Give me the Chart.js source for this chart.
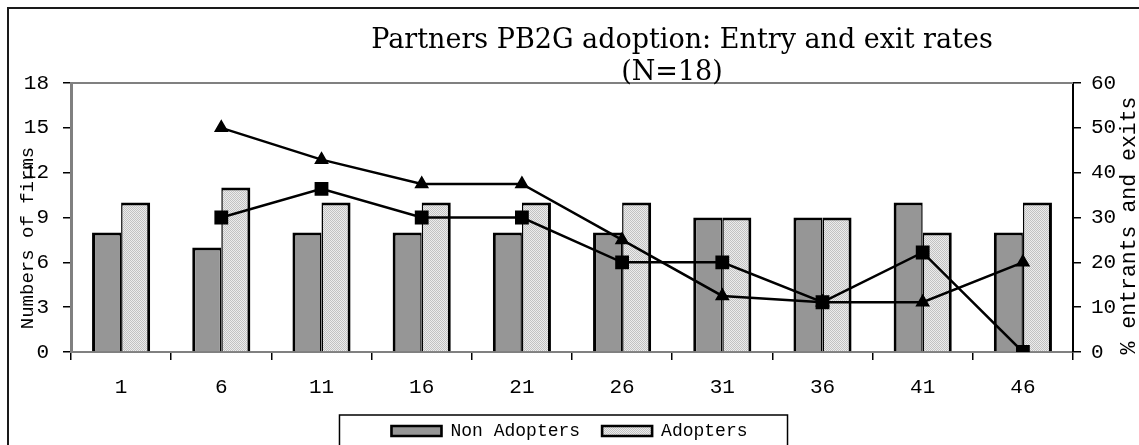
<!DOCTYPE html>
<html>
<head>
<meta charset="utf-8">
<script src="https://cdn.jsdelivr.net/npm/chart.js@4.4.1/dist/chart.umd.min.js"></script>
<style>
  html, body { margin: 0; padding: 0; background: #fff; }
  #wrap { width: 1139px; height: 445px; position: relative; }
</style>
</head>
<body>
<div id="wrap"><canvas id="pb2gChart"></canvas></div>
<script>
// values
const periods = ['1', '6', '11', '16', '21', '26', '31', '36', '41', '46'];
const nonAdopters = [8, 7, 8, 8, 8, 8, 9, 9, 10, 8];
const adopters = [10, 11, 10, 10, 10, 10, 9, 9, 8, 10];
const entrants = [null, 50, 42.9, 37.5, 37.5, 25, 12.5, 11.1, 11.1, 20];
const exits = [null, 30, 36.4, 30, 30, 20, 20, 11.1, 22.2, 0];
const firmTicks = [0, 3, 6, 9, 12, 15, 18];
const rateTicks = [0, 10, 20, 30, 40, 50, 60];
const titleLines = ['Partners PB2G adoption: Entry and exit rates', '(N=18)'];
const leftTitle = 'Numbers of firms';
const rightTitle = '% entrants and exits';

const MONO = '"Liberation Mono", monospace';

// light dotted fill for the adopters bars
function dotPattern() {
    const c = document.createElement('canvas');
    c.width = 2; c.height = 2;
    const g = c.getContext('2d');
    g.fillStyle = '#ececec';
    g.fillRect(0, 0, 2, 2);
    g.fillStyle = '#c2c2c2';
    g.fillRect(0, 0, 1, 1);
    g.fillRect(1, 1, 1, 1);
    return g.createPattern(c, 'repeat');
}

function verticalText(ctx, text, x, y, font) {
    ctx.save();
    ctx.translate(x, y);
    ctx.rotate(-Math.PI / 2);
    ctx.font = font;
    ctx.textAlign = 'center';
    ctx.textBaseline = 'middle';
    ctx.fillText(text, 0, 0);
    ctx.restore();
}

// frame, titles and legend box
const decor = {
    id: 'decor',
    afterDraw(chart) {
        const { ctx, chartArea: a } = chart;
        ctx.save();
        ctx.strokeStyle = '#1a1a1a';
        ctx.lineWidth = 2;
        ctx.beginPath();
        ctx.moveTo(8, chart.height);
        ctx.lineTo(8, 8);
        ctx.lineTo(chart.width, 8);
        ctx.stroke();

        ctx.strokeStyle = '#808080';
        ctx.beginPath();
        ctx.moveTo(a.left, a.top);
        ctx.lineTo(a.right, a.top);
        ctx.stroke();

        ctx.fillStyle = '#000';
        ctx.font = '27px "DejaVu Serif"';
        ctx.textAlign = 'center';
        ctx.textBaseline = 'alphabetic';
        ctx.fillText(titleLines[0], 682, 48);
        ctx.fillText(titleLines[1], 672, 80);

        verticalText(ctx, leftTitle, 28, a.bottom - 114, '19px ' + MONO);
        verticalText(ctx, rightTitle, chart.scales.y1.right - 10, (a.top + a.bottom) / 2 + 8, '21.5px ' + MONO);

        const hb = chart.legend.legendHitBoxes;
        if (hb && hb.length) {
            const first = hb[0], last = hb[hb.length - 1];
            const top = first.top + first.height / 2 - 16;
            ctx.strokeStyle = '#000';
            ctx.lineWidth = 1.5;
            ctx.beginPath();
            ctx.moveTo(first.left - 52, chart.height + 2);
            ctx.lineTo(first.left - 52, top);
            ctx.lineTo(last.left + last.width + 40, top);
            ctx.lineTo(last.left + last.width + 40, chart.height + 2);
            ctx.stroke();
        }
        ctx.restore();
    }
};

const ctx = document.getElementById('pb2gChart').getContext('2d');
new Chart(ctx, {
    data: {
        labels: periods,
        datasets: [
            {
                type: 'bar',
                label: 'Non Adopters',
                data: nonAdopters,
                backgroundColor: '#969696',
                borderColor: '#000',
                borderWidth: { top: 3, left: 3, right: 1.5, bottom: 3 },
                yAxisID: 'y',
                order: 1,
                barPercentage: 1,
                categoryPercentage: 0.58
            },
            {
                type: 'bar',
                label: 'Adopters',
                data: adopters,
                backgroundColor: dotPattern(),
                borderColor: '#000',
                borderWidth: { top: 3, left: 1.5, right: 3, bottom: 3 },
                yAxisID: 'y',
                order: 1,
                barPercentage: 1,
                categoryPercentage: 0.58
            },
            {
                type: 'line',
                label: '% entrants',
                data: entrants,
                borderColor: '#000',
                backgroundColor: '#000',
                borderWidth: 2.5,
                pointStyle: 'triangle',
                pointRadius: 6,
                yAxisID: 'y1',
                order: 0
            },
            {
                type: 'line',
                label: '% exits',
                data: exits,
                borderColor: '#000',
                backgroundColor: '#000',
                borderWidth: 2.5,
                pointStyle: 'rect',
                pointRadius: 8,
                yAxisID: 'y1',
                order: 0
            }
        ]
    },
    options: {
        responsive: true,
        maintainAspectRatio: false,
        animation: false,
        layout: {
            padding: { top: 83, left: 0, right: 0, bottom: 0 }
        },
        scales: {
            x: {
                grid: { drawOnChartArea: false, color: '#000', tickLength: 8, lineWidth: 1.5 },
                border: { color: '#808080', width: 2 },
                ticks: {
                    color: '#000',
                    font: { family: MONO, size: 21 },
                    padding: 15,
                    maxRotation: 0,
                    minRotation: 0
                },
                afterFit: (scale) => { scale.height = 48; }
            },
            y: {
                position: 'left',
                min: firmTicks[0],
                max: firmTicks[firmTicks.length - 1],
                ticks: {
                    stepSize: firmTicks[1] - firmTicks[0],
                    color: '#000',
                    font: { family: MONO, size: 21 },
                    padding: 14
                },
                grid: { drawOnChartArea: false, color: '#000', tickLength: 8, lineWidth: 1.5 },
                border: { color: '#808080', width: 3 },
                afterFit: (scale) => { scale.width = 71; }
            },
            y1: {
                position: 'right',
                min: rateTicks[0],
                max: rateTicks[rateTicks.length - 1],
                ticks: {
                    stepSize: rateTicks[1] - rateTicks[0],
                    color: '#000',
                    font: { family: MONO, size: 21 },
                    padding: 10
                },
                grid: { drawOnChartArea: false, color: '#000', tickLength: 8, lineWidth: 1.5 },
                border: { color: '#000', width: 2 },
                afterFit: (scale) => { scale.width = 66; }
            }
        },
        plugins: {
            title: { display: false },
            tooltip: { enabled: false },
            legend: {
                display: true,
                position: 'bottom',
                maxHeight: 45,
                labels: {
                    color: '#000',
                    font: { family: MONO, size: 18 },
                    boxWidth: 50,
                    boxHeight: 10,
                    padding: 22,
                    filter: (item) => item.datasetIndex < 2
                }
            }
        }
    },
    plugins: [decor]
});
</script>
</body>
</html>
